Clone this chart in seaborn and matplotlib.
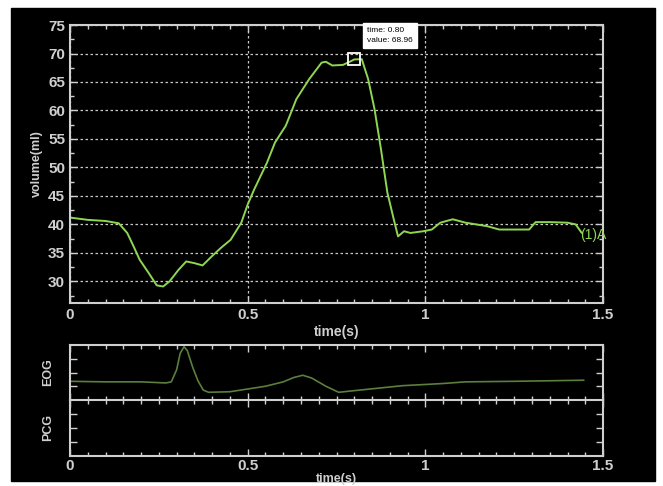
import numpy as np
import pandas as pd
import matplotlib.pyplot as plt
import seaborn as sns
from matplotlib.patches import Rectangle
from matplotlib.ticker import MultipleLocator, NullFormatter

# volume curve (time s, ml)
vol_t = [0.0, 0.05, 0.10, 0.137, 0.161, 0.18, 0.196, 0.22, 0.244, 0.262, 0.28, 0.305, 0.327,
         0.35, 0.373, 0.399, 0.425, 0.452, 0.482, 0.50, 0.518, 0.554, 0.577, 0.607, 0.637,
         0.673, 0.708, 0.72, 0.738, 0.768, 0.792, 0.80, 0.821, 0.839, 0.857, 0.875,
         0.893, 0.911, 0.923, 0.94, 0.958, 0.994, 1.018, 1.042, 1.077, 1.113, 1.173,
         1.208, 1.25, 1.292, 1.31, 1.351, 1.40, 1.423, 1.44]
vol_v = [41.2, 40.8, 40.6, 40.2, 38.5, 36.0, 33.8, 31.6, 29.3, 29.1, 30.0, 32.0, 33.5,
         33.2, 32.8, 34.4, 35.9, 37.3, 40.3, 43.5, 46.1, 50.8, 54.4, 57.3, 62.0,
         65.5, 68.4, 68.55, 67.9, 68.0, 68.7, 68.96, 69.0, 65.5, 60.2, 53.2,
         45.6, 40.9, 37.9, 38.8, 38.5, 38.8, 39.1, 40.3, 40.9, 40.3, 39.7,
         39.1, 39.1, 39.1, 40.4, 40.4, 40.3, 40.0, 38.5]

# EOG trace (relative units)
eog_t = [0.0, 0.10, 0.20, 0.27, 0.285, 0.30, 0.31, 0.321, 0.33, 0.345, 0.36, 0.375,
         0.39, 0.45, 0.55, 0.60, 0.63, 0.655, 0.68, 0.72, 0.756, 0.80, 0.935, 1.05,
         1.113, 1.25, 1.35, 1.446]
eog_v = [0.34, 0.33, 0.33, 0.31, 0.33, 0.55, 0.85, 0.97, 0.90, 0.60, 0.35, 0.18,
         0.14, 0.15, 0.25, 0.33, 0.41, 0.45, 0.40, 0.25, 0.14, 0.17, 0.26, 0.30,
         0.33, 0.34, 0.35, 0.36]

peak_time = 0.80
peak_value = 68.96

sns.set_theme(style="ticks")
plt.rcParams['font.family'] = ['Liberation Sans', 'DejaVu Sans']

fg = '#cfcfcf'
fig = plt.figure(figsize=(6.63, 4.86), dpi=100)
fig.patch.set_facecolor('white')
fig.patches.append(Rectangle((11 / 663, 1 - 481 / 486), 644 / 663, 473 / 486,
                             transform=fig.transFigure, color='black', zorder=-10))

ax = fig.add_axes([0.1056, 0.3765, 0.804, 0.572])
ax_e = fig.add_axes([0.1056, 0.177, 0.804, 0.113])
ax_p = fig.add_axes([0.1056, 0.0617, 0.804, 0.1153])

df_v = pd.DataFrame({'t': vol_t, 'v': vol_v})
df_e = pd.DataFrame({'t': eog_t, 'v': eog_v})
sns.lineplot(data=df_v, x='t', y='v', ax=ax, color='#8fd653', lw=1.4)
sns.lineplot(data=df_e, x='t', y='v', ax=ax_e, color='#5b7f3c', lw=1.2)

for a in (ax, ax_e, ax_p):
    a.set_facecolor('black')
    a.set_xlim(0, 1.5)
    for s in a.spines.values():
        s.set_color(fg)
        s.set_linewidth(1.5)
    a.xaxis.set_major_locator(MultipleLocator(0.5))
    a.xaxis.set_minor_locator(MultipleLocator(0.05))
    a.tick_params(which='both', direction='in', top=True, right=True, colors=fg,
                  labelcolor=fg, labelsize=11)
    a.tick_params(which='major', length=5, width=1)
    a.tick_params(which='minor', length=3, width=1)
    a.set_xticks([0, 0.5, 1, 1.5], ['0', '0.5', '1', '1.5'], fontweight='bold')
    a.set_ylabel('')
    a.set_xlabel('')

ax.set_ylim(26.2, 75)
ax.yaxis.set_major_locator(MultipleLocator(5))
ax.yaxis.set_minor_locator(MultipleLocator(2.5))
ax.set_yticks(range(30, 80, 5), [str(v) for v in range(30, 80, 5)], fontweight='bold')
ax.grid(True, which='major', color='#c8c8c8', ls=(0, (2, 2)), lw=0.9)
ax.set_xlabel('time(s)', color=fg, fontweight='bold', fontsize=10, labelpad=2)
ax.set_ylabel('volume(ml)', color=fg, fontweight='bold', fontsize=9, labelpad=4)

ax.plot([peak_time], [peak_value], 's', ms=8, mfc='none', mec='white', mew=1.3)
ax.text(peak_time + 0.035, 74.6, f'time: {peak_time:.2f}\nvalue: {peak_value:.2f}',
        fontsize=6, color='black', va='top', ha='left', linespacing=1.6,
        bbox=dict(boxstyle='square,pad=0.5', fc='white', ec='white'))
ax.text(1.435, 38.1, '(1)A', color='#8fd653', fontsize=10, va='center', ha='left',
        clip_on=False)

ax_e.set_ylim(0, 1)
ax_e.set_yticks([0.25, 0.5, 0.75])
ax_e.tick_params(axis='x', labelbottom=False)
ax_e.yaxis.set_major_formatter(NullFormatter())
ax_e.set_ylabel('EOG', color=fg, fontweight='bold', fontsize=9, labelpad=8)
ax_e.spines['bottom'].set_visible(False)

ax_p.set_ylim(0, 1)
ax_p.set_yticks([0.25, 0.5, 0.75])
ax_p.yaxis.set_major_formatter(NullFormatter())
ax_p.set_ylabel('PCG', color=fg, fontweight='bold', fontsize=9, labelpad=8)
ax_p.tick_params(axis='x', pad=2)
ax_p.set_xlabel('time(s)', color=fg, fontweight='bold', fontsize=9, labelpad=0)

fig.savefig('out.png', dpi=100, facecolor=fig.get_facecolor())
